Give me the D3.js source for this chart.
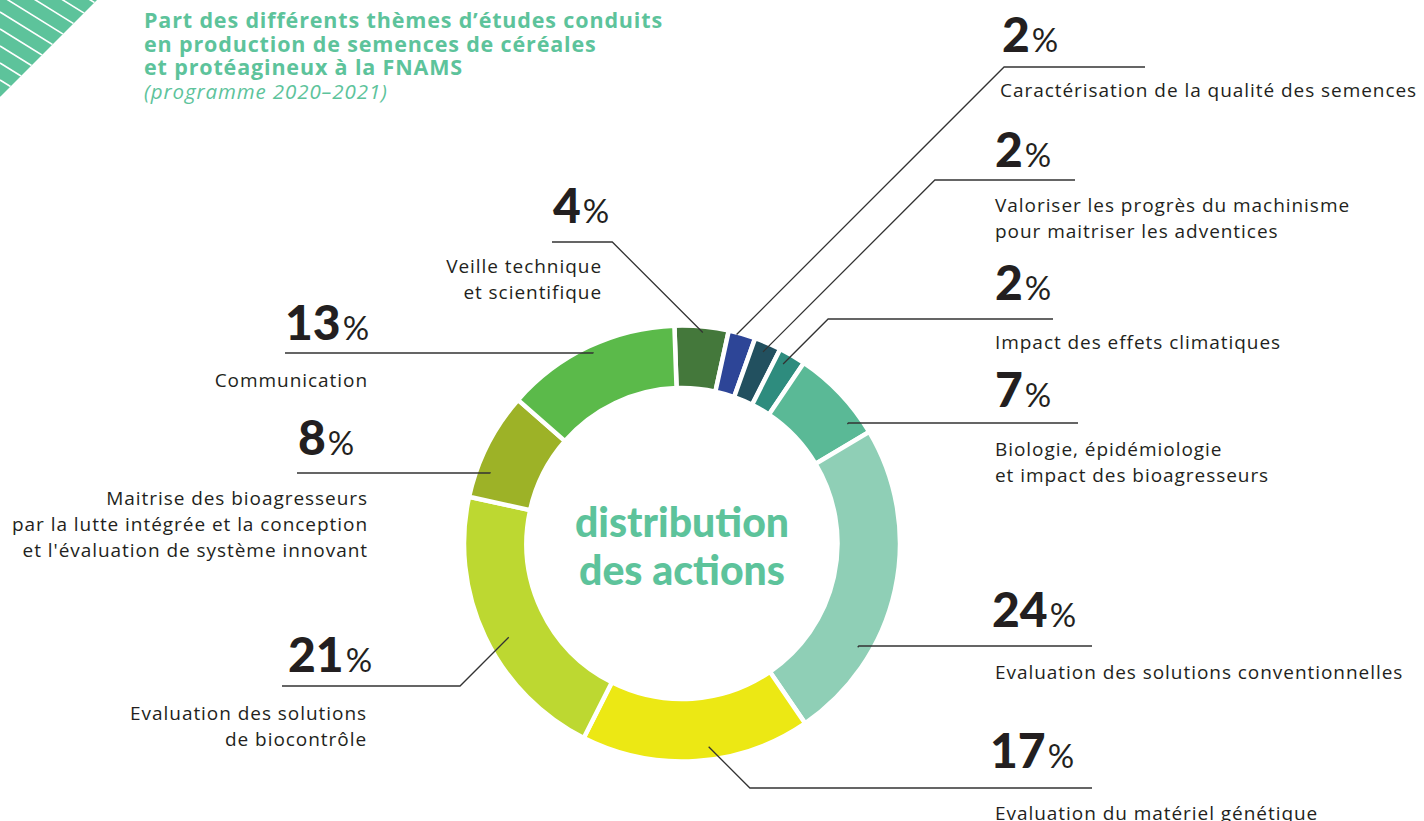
<!DOCTYPE html>
<html>
<head>
<meta charset="utf-8">
<script src="https://cdn.jsdelivr.net/npm/d3@7"></script>
<style>
  body { margin: 0; background: #fff; }
  svg { display: block; }
  .lbl { font-family: "Open Sans", sans-serif; font-size: 19px; letter-spacing: 0.95px; fill: #231f20; }
  .num { font-family: "Lato", sans-serif; font-weight: 900; font-size: 48px; fill: #231f20; }
  .pct { font-family: "Lato", sans-serif; font-weight: 400; font-size: 33px; }
</style>
</head>
<body>
<svg id="chart" width="1424" height="821"></svg>
<script>
// themes, clockwise from the top
const themes = [
  ["Veille technique", "et scientifique"],
  ["Caractérisation de la qualité des semences"],
  ["Valoriser les progrès du machinisme", "pour maitriser les adventices"],
  ["Impact des effets climatiques"],
  ["Biologie, épidémiologie", "et impact des bioagresseurs"],
  ["Evaluation des solutions conventionnelles"],
  ["Evaluation du matériel génétique"],
  ["Evaluation des solutions", "de biocontrôle"],
  ["Maitrise des bioagresseurs", "par la lutte intégrée et la conception", "et l'évaluation de système innovant"],
  ["Communication"]
];
const shares = [4, 2, 2, 2, 7, 24, 17, 21, 8, 13];
const colors = ["#44783b", "#2d4597", "#22505f", "#2e8c7e", "#5ab996",
                "#8fcfb6", "#ece814", "#bdd831", "#9db227", "#5bba4a"];

const titleLines = [
  "Part des différents thèmes d’études conduits",
  "en production de semences de céréales",
  "et protéagineux à la FNAMS"
];
const subtitle = "(programme 2020–2021)";
const centerLines = ["distribution", "des actions"];

// where each label sits, and where its leader touches the ring
const layout = [
  {side: "L", numX: 553, numY: 223, lineY: 242, lineX: 552, textX: 602, textY: 273, f: 0.53, r: 212},
  {side: "R", numX: 1002, numY: 52, lineY: 67, lineX: 1145, textX: 1000, textY: 97, f: 0.31, r: 216},
  {side: "R", numX: 995, numY: 167, lineY: 180, lineX: 1075, textX: 995, textY: 212, f: 0.46, r: 208},
  {side: "R", numX: 995, numY: 300, lineY: 319, lineX: 1053, textX: 995, textY: 349, f: 0.36, r: 206},
  {side: "R", numX: 995, numY: 407, lineY: 423, lineX: 1078, textX: 995, textY: 456, f: 0.80, r: 204},
  {side: "R", numX: 992, numY: 627, lineY: 646, lineX: 1092, textX: 995, textY: 679, f: 0.71, r: 204},
  {side: "R", numX: 990, numY: 768, lineY: 788, lineX: 1092, textX: 995, textY: 820, f: 0.44, r: 205},
  {side: "L", numX: 288, numY: 672, lineY: 686, lineX: 282, textX: 367, textY: 720, f: 0.46, r: 197},
  {side: "L", numX: 298, numY: 455, lineY: 473, lineX: 297, textX: 368, textY: 505, f: 0.27, r: 204},
  {side: "L", numX: 285, numY: 340, lineY: 353, lineX: 285, textX: 368, textY: 387, f: 0.51, r: 210}
];

const svg = d3.select("#chart");
const cx = 682, cy = 543.5;
const outerR = 218, innerR = 155.5;
const green = "#5dc39b";

// corner stripes
const corner = svg.append("g");
corner.append("clipPath").attr("id", "tri")
  .append("path").attr("d", "M0,0 L97,0 L0,97 Z");
corner.append("path").attr("d", "M0,0 L97,0 L0,97 Z").attr("fill", green);
corner.append("g").attr("clip-path", "url(#tri)")
  .selectAll("line")
  .data(d3.range(-8, 8))
  .join("line")
  .attr("x1", 0).attr("y1", d => 12 + d * 17)
  .attr("x2", 200).attr("y2", d => 12 + d * 17 + 200 * 0.62)
  .attr("stroke", "#fff").attr("stroke-width", 1.6);

// title
const title = svg.append("text")
  .attr("x", 144)
  .attr("font-family", "Open Sans, sans-serif")
  .attr("fill", green);
title.selectAll("tspan")
  .data(titleLines)
  .join("tspan")
  .attr("x", 144)
  .attr("y", (d, i) => 28 + i * 23.5)
  .attr("font-size", 21.5)
  .attr("font-weight", 700)
  .attr("letter-spacing", 0.85)
  .text(d => d);
title.append("tspan")
  .attr("x", 144).attr("y", 99)
  .attr("font-size", 20.5).attr("font-style", "italic")
  .attr("letter-spacing", 0.9)
  .text(subtitle);

// donut
const deg = Math.PI / 180;
const pie = d3.pie().sort(null)
  .startAngle(-2 * deg).endAngle(358 * deg);
const arcs = pie(shares);
const arc = d3.arc().innerRadius(innerR).outerRadius(outerR);

const g = svg.append("g").attr("transform", translate(cx, cy));
g.selectAll("path")
  .data(arcs)
  .join("path")
  .attr("d", arc)
  .attr("fill", (d, i) => colors[i])
  .attr("stroke", "#fff")
  .attr("stroke-width", 4.5);

g.selectAll("text.center")
  .data(centerLines)
  .join("text")
  .attr("class", "center")
  .attr("text-anchor", "middle")
  .attr("y", (d, i) => -7 + i * 48)
  .attr("font-family", "Lato, sans-serif")
  .attr("font-weight", 900)
  .attr("font-size", 41)
  .attr("fill", green)
  .text(d => d);

// leaders
const leaders = svg.append("g");
arcs.forEach(function(a, i) {
  const L = layout[i];
  const ang = a.startAngle + L.f * (a.endAngle - a.startAngle);
  const px = cx + L.r * Math.sin(ang);
  const py = cy - L.r * Math.cos(ang);
  const dy = Math.abs(L.lineY - py);
  const ex = L.side === "R" ? px + dy : px - dy;
  leaders.append("path")
    .attr("d", d3.line()([[px, py], [ex, L.lineY], [L.lineX, L.lineY]]))
    .attr("fill", "none")
    .attr("stroke", "#333")
    .attr("stroke-width", 1.3);
});

// labels
const labels = svg.append("g");
layout.forEach(function(L, i) {
  const n = labels.append("text").attr("class", "num")
    .attr("x", L.numX).attr("y", L.numY);
  n.append("tspan").text(shares[i]);
  n.append("tspan").attr("class", "pct").attr("dx", 2).text("%");

  labels.append("text").attr("class", "lbl")
    .attr("text-anchor", L.side === "R" ? "start" : "end")
    .selectAll("tspan")
    .data(themes[i])
    .join("tspan")
    .attr("x", L.textX)
    .attr("y", (d, k) => L.textY + k * 26)
    .text(d => d);
});

function translate(x, y) {
  return "translate(" + x + "," + y + ")";
}
</script>
</body>
</html>
